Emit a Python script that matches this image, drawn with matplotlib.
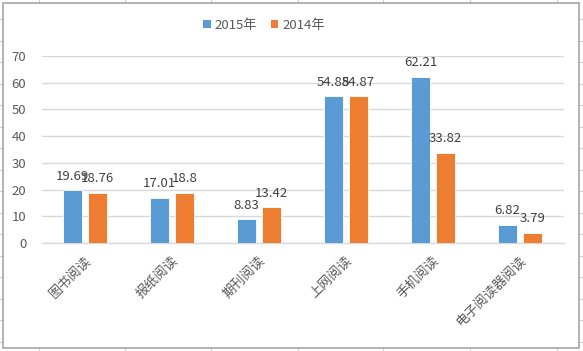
import matplotlib
matplotlib.use("Agg")
import matplotlib.pyplot as plt
import matplotlib.patches as mpatches
from matplotlib.lines import Line2D
import numpy as np

plt.rcParams['font.family'] = ['Noto Sans CJK SC', 'DejaVu Sans']

categories = ["图书阅读", "报纸阅读", "期刊阅读", "上网阅读", "手机阅读", "电子阅读器阅读"]
series_names = ["2015年", "2014年"]
values_2015 = [19.69, 17.01, 8.83, 54.88, 62.21, 6.82]
values_2014 = [18.76, 18.8, 13.42, 54.87, 33.82, 3.79]
yticks = [0, 10, 20, 30, 40, 50, 60, 70]

colors = ["#5B9BD5", "#ED7D31"]
W, H = 583, 351
fig = plt.figure(figsize=(W / 100, H / 100), dpi=100)
fig.patch.set_facecolor("white")

# axes placement
left_px, right_px, zero_px, top_px = 41.5, 563.5, 243, 56
ax = fig.add_axes([left_px / W, (H - zero_px) / H, (right_px - left_px) / W, (zero_px - top_px) / H])

x = np.arange(len(categories))
bw = 0.22
off = 0.145
b1 = ax.bar(x - off, values_2015, bw, color=colors[0], edgecolor="white", linewidth=0.6, zorder=3)
b2 = ax.bar(x + off, values_2014, bw, color=colors[1], edgecolor="white", linewidth=0.6, zorder=3)

for bars, vals in ((b1, values_2015), (b2, values_2014)):
    for rect, v in zip(bars, vals):
        ax.annotate(f"{v:g}", (rect.get_x() + rect.get_width() / 2, rect.get_height()),
                    xytext=(0, 5.5), textcoords="offset points", ha="center", va="bottom",
                    fontsize=9.5, color="#404040", zorder=5, annotation_clip=False)

ax.set_xlim(-0.5, len(categories) - 0.5)
ax.set_ylim(0, 70)
ax.set_yticks(yticks)
ax.set_yticklabels([str(t) for t in yticks], fontsize=9.5, color="#595959")
ax.tick_params(axis="y", length=0, pad=11)
ax.set_xticks(x)
ax.set_xticklabels(categories, rotation=45, ha="right", va="top", rotation_mode="anchor",
                   fontsize=9.5, color="#595959")
ax.tick_params(axis="x", length=0, pad=8)
ax.grid(axis="y", color="#D9D9D9", linewidth=1.0, zorder=0)
ax.set_axisbelow(True)
for s in ["top", "right", "left"]:
    ax.spines[s].set_visible(False)
ax.spines["bottom"].set_color("#D9D9D9")
ax.spines["bottom"].set_linewidth(1.0)
ax.set_facecolor("none")

handles = [mpatches.Patch(facecolor=c, edgecolor="none") for c in colors]
fig.legend(handles, series_names, loc="center", bbox_to_anchor=(264 / W, 1 - 25 / H),
           ncol=2, frameon=False, fontsize=9.5, handlelength=0.6, handleheight=0.6,
           handletextpad=0.3, columnspacing=1.0, labelcolor="#595959")

# chart border
fig.patches.append(mpatches.Rectangle((3 / W, 3 / H), 576 / W, 345 / H, transform=fig.transFigure,
                                      fill=False, edgecolor="#A6A6A6", linewidth=1.2, zorder=10))
# spreadsheet cell lines outside the chart
for cx in [39, 125, 211, 298, 383, 470, 557]:
    fig.add_artist(Line2D([cx / W, cx / W], [1 - 3 / H, 1.0], color="#D0D0D0", linewidth=0.8))
    fig.add_artist(Line2D([cx / W, cx / W], [0, 3 / H], color="#D0D0D0", linewidth=0.8))
for ry in np.arange(19, 348, 21.5):
    fig.add_artist(Line2D([0, 3 / W], [1 - ry / H, 1 - ry / H], color="#D0D0D0", linewidth=0.8))
    fig.add_artist(Line2D([579 / W, 1], [1 - ry / H, 1 - ry / H], color="#D0D0D0", linewidth=0.8))

fig.savefig("out.png", dpi=100, facecolor="white")
